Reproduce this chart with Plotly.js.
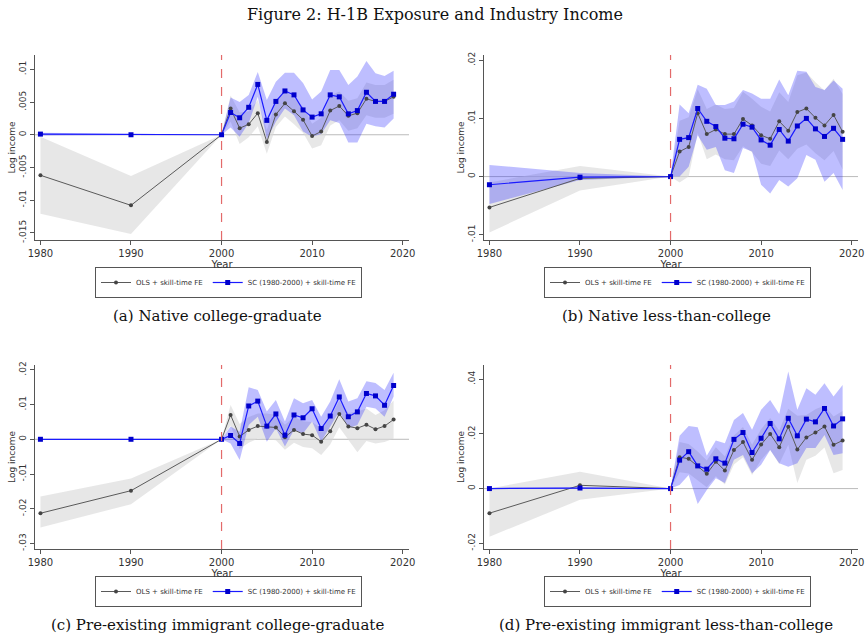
<!DOCTYPE html>
<html>
<head>
<meta charset="utf-8">
<script src="https://cdn.plot.ly/plotly-3.0.1.min.js"></script>
<style>
  html, body { margin: 0; padding: 0; background: white; }
  #fig { width: 865px; height: 644px; }
</style>
</head>
<body>
<div id="fig"></div>
<script>
// years on the x axis
var years = [1980, 1990, 2000, 2001, 2002, 2003, 2004, 2005, 2006, 2007, 2008, 2009,
             2010, 2011, 2012, 2013, 2014, 2015, 2016, 2017, 2018, 2019];

// (a) Native college-graduate
var a_ols    = [-0.0062, -0.0108, 0, 0.0040, 0.0010, 0.0016, 0.0033, -0.0011, 0.0031, 0.0048, 0.0036, 0.0023,
                -0.0002, 0.0005, 0.0037, 0.0044, 0.0029, 0.0033, 0.0055, 0.0051, 0.0051, 0.0058];
var a_ols_lo = [-0.0121, -0.0152, 0, 0.0020, -0.0014, -0.0004, 0.0013, -0.0029, 0.0012, 0.0028, 0.0016, 0.0003,
                -0.0021, -0.0016, 0.0014, 0.0022, 0.0006, 0.0010, 0.0030, 0.0026, 0.0026, 0.0032];
var a_ols_hi = [-0.0003, -0.0063, 0, 0.0060, 0.0034, 0.0036, 0.0053, 0.0007, 0.0050, 0.0068, 0.0056, 0.0043,
                0.0017, 0.0026, 0.0060, 0.0066, 0.0052, 0.0056, 0.0080, 0.0076, 0.0076, 0.0084];
var a_sc     = [0.0001, 0, 0, 0.0034, 0.0026, 0.0042, 0.0077, 0.0022, 0.0051, 0.0067, 0.0061, 0.0038,
                0.0027, 0.0032, 0.0061, 0.0058, 0.0032, 0.0037, 0.0065, 0.0051, 0.0051, 0.0062];
var a_sc_lo  = [-0.0001, -0.0001, 0, 0.0011, -0.0003, 0.0018, 0.0058, -0.0007, 0.0020, 0.0040, 0.0030, 0.0005,
                -0.0003, 0.0001, 0.0022, 0.0018, -0.0012, -0.0012, 0.0017, 0.0013, 0.0011, 0.0025];
var a_sc_hi  = [0.0003, 0.0001, 0, 0.0057, 0.0050, 0.0061, 0.0096, 0.0053, 0.0081, 0.0095, 0.0095, 0.0079,
                0.0054, 0.0066, 0.0099, 0.0099, 0.0076, 0.0089, 0.0113, 0.0094, 0.0090, 0.0098];

// (b) Native less-than-college
var b_ols    = [-0.0053, -0.0003, 0, 0.0043, 0.0051, 0.0109, 0.0073, 0.0081, 0.0073, 0.0073, 0.0099, 0.0088,
                0.0071, 0.0065, 0.0095, 0.0079, 0.0111, 0.0117, 0.0101, 0.0088, 0.0106, 0.0077];
var b_ols_lo = [-0.0096, -0.0024, 0, -0.0010, 0.0000, 0.0075, 0.0030, 0.0038, 0.0030, 0.0028, 0.0052, 0.0042,
                0.0022, 0.0018, 0.0045, 0.0030, 0.0048, 0.0055, 0.0040, 0.0028, 0.0044, 0.0012];
var b_ols_hi = [-0.0010, 0.0018, 0, 0.0096, 0.0102, 0.0150, 0.0116, 0.0124, 0.0116, 0.0118, 0.0146, 0.0134,
                0.0120, 0.0112, 0.0145, 0.0128, 0.0174, 0.0179, 0.0162, 0.0148, 0.0168, 0.0142];
var b_sc     = [-0.0014, -0.0001, 0, 0.0064, 0.0067, 0.0117, 0.0095, 0.0086, 0.0066, 0.0065, 0.0090, 0.0085,
                0.0063, 0.0054, 0.0081, 0.0061, 0.0087, 0.0100, 0.0082, 0.0069, 0.0083, 0.0064];
var b_sc_lo  = [-0.0047, -0.0006, 0, 0.0000, 0.0017, 0.0071, 0.0046, 0.0051, 0.0011, 0.0006, 0.0049, 0.0043,
                -0.0014, -0.0029, -0.0006, -0.0017, -0.0003, 0.0037, 0.0029, -0.0009, 0.0006, -0.0023];
var b_sc_hi  = [0.0020, 0.0006, 0, 0.0124, 0.0109, 0.0158, 0.0151, 0.0123, 0.0123, 0.0129, 0.0149, 0.0143,
                0.0134, 0.0134, 0.0167, 0.0140, 0.0182, 0.0180, 0.0154, 0.0149, 0.0165, 0.0151];

// (c) Pre-existing immigrant college-graduate
var c_ols    = [-0.0213, -0.0148, 0, 0.0070, 0.0008, 0.0027, 0.0038, 0.0037, 0.0034, 0.0006, 0.0027, 0.0015,
                0.0012, -0.0007, 0.0023, 0.0073, 0.0037, 0.0032, 0.0042, 0.0029, 0.0038, 0.0057];
var c_ols_lo = [-0.0254, -0.0187, 0, 0.0040, -0.0028, -0.0010, 0.0002, 0.0000, -0.0003, -0.0030, -0.0010, -0.0022,
                -0.0026, -0.0045, -0.0015, 0.0035, -0.0002, -0.0037, -0.0005, -0.0012, -0.0008, 0.0002];
var c_ols_hi = [-0.0165, -0.0113, 0, 0.0099, 0.0044, 0.0064, 0.0074, 0.0074, 0.0071, 0.0042, 0.0064, 0.0052,
                0.0050, 0.0031, 0.0061, 0.0111, 0.0076, 0.0080, 0.0089, 0.0070, 0.0084, 0.0112];
var c_sc     = [0, 0, 0, 0.0011, -0.0012, 0.0096, 0.0110, 0.0038, 0.0073, 0.0012, 0.0070, 0.0062,
                0.0088, 0.0031, 0.0067, 0.0122, 0.0065, 0.0079, 0.0132, 0.0125, 0.0098, 0.0155];
var c_sc_lo  = [0, 0, 0, -0.0012, -0.0060, 0.0041, 0.0065, -0.0007, 0.0032, -0.0021, 0.0027, 0.0017,
                0.0051, -0.0007, 0.0037, 0.0080, 0.0032, 0.0041, 0.0094, 0.0089, 0.0065, 0.0123];
var c_sc_hi  = [0, 0, 0, 0.0037, 0.0022, 0.0150, 0.0142, 0.0080, 0.0113, 0.0051, 0.0118, 0.0104,
                0.0113, 0.0065, 0.0109, 0.0173, 0.0109, 0.0118, 0.0167, 0.0162, 0.0142, 0.0192];

// (d) Pre-existing immigrant less-than-college
var d_ols    = [-0.0090, 0.0012, 0, 0.0115, 0.0109, 0.0083, 0.0054, 0.0098, 0.0066, 0.0141, 0.0170, 0.0105,
                0.0161, 0.0200, 0.0151, 0.0226, 0.0143, 0.0187, 0.0205, 0.0227, 0.0160, 0.0176];
var d_ols_lo = [-0.0176, -0.0041, 0, 0.0060, 0.0055, 0.0030, 0.0005, 0.0045, 0.0015, 0.0088, 0.0115, 0.0050,
                0.0105, 0.0142, 0.0090, 0.0160, 0.0020, 0.0105, 0.0120, 0.0150, 0.0056, 0.0068];
var d_ols_hi = [0.0000, 0.0062, 0, 0.0170, 0.0163, 0.0136, 0.0103, 0.0151, 0.0117, 0.0194, 0.0225, 0.0160,
                0.0217, 0.0258, 0.0212, 0.0292, 0.0266, 0.0269, 0.0290, 0.0304, 0.0264, 0.0284];
var d_sc     = [0, 0.0002, 0, 0.0104, 0.0135, 0.0083, 0.0071, 0.0109, 0.0093, 0.0180, 0.0205, 0.0132,
                0.0184, 0.0238, 0.0182, 0.0257, 0.0193, 0.0254, 0.0244, 0.0293, 0.0229, 0.0255];
var d_sc_lo  = [-0.0002, -0.0001, 0, 0.0013, 0.0050, -0.0056, -0.0005, 0.0038, 0.0020, 0.0105, 0.0123, 0.0056,
                0.0087, 0.0141, 0.0093, 0.0080, 0.0093, 0.0148, 0.0148, 0.0196, 0.0123, 0.0129];
var d_sc_hi  = [0.0002, 0.0005, 0, 0.0193, 0.0229, 0.0224, 0.0120, 0.0176, 0.0166, 0.0251, 0.0276, 0.0215,
                0.0288, 0.0324, 0.0273, 0.0428, 0.0288, 0.0367, 0.0343, 0.0385, 0.0337, 0.0379];

var ols_name = "OLS + skill-time FE";
var sc_name = "SC (1980-2000) + skill-time FE";

var captions = ["(a) Native college-graduate", "(b) Native less-than-college",
                "(c) Pre-existing immigrant college-graduate", "(d) Pre-existing immigrant less-than-college"];

var y_ticks = [
  [-0.015, -0.01, -0.005, 0, 0.005, 0.01],
  [-0.01, 0, 0.01, 0.02],
  [-0.03, -0.02, -0.01, 0, 0.01, 0.02],
  [-0.02, 0, 0.02, 0.04]
];
var y_ticktext = [
  ["-.015", "-.01", "-.005", "0", ".005", ".01"],
  ["-.01", "0", ".01", ".02"],
  ["-.03", "-.02", "-.01", "0", ".01", ".02"],
  ["-.02", "0", ".02", ".04"]
];
var y_ranges = [[-0.0161, 0.0122], [-0.0109, 0.0209], [-0.0316, 0.0214], [-0.0221, 0.0452]];
var x_ticks = [1980, 1990, 2000, 2010, 2020];

var panels = [
  [a_ols, a_ols_lo, a_ols_hi, a_sc, a_sc_lo, a_sc_hi],
  [b_ols, b_ols_lo, b_ols_hi, b_sc, b_sc_lo, b_sc_hi],
  [c_ols, c_ols_lo, c_ols_hi, c_sc, c_sc_lo, c_sc_hi],
  [d_ols, d_ols_lo, d_ols_hi, d_sc, d_sc_lo, d_sc_hi]
];

// panel boxes in pixels (left, right, top, bottom) of an 865x644 page
var W = 865, H = 644;
var boxes = [
  [35, 409, 55, 240],
  [484, 858, 55, 240],
  [35, 409, 365, 549],
  [484, 858, 365, 549]
];

var data = [];
var layout = {
  width: W,
  height: H,
  margin: {l: 0, r: 0, t: 0, b: 0},
  paper_bgcolor: "white",
  plot_bgcolor: "white",
  showlegend: true,
  font: {family: "DejaVu Sans, sans-serif", size: 9, color: "#333"},
  shapes: [],
  annotations: [{
    text: "Figure 2: H-1B Exposure and Industry Income",
    xref: "paper", yref: "paper", x: 435 / W, y: 1 - 15 / H,
    xanchor: "center", yanchor: "middle", showarrow: false,
    font: {family: "DejaVu Serif, serif", size: 16, color: "#111"}
  }]
};

for (var p = 0; p < 4; p++) {
  var s = p === 0 ? "" : String(p + 1);
  var xa = "x" + s, ya = "y" + s;
  var leg = p === 0 ? "legend" : "legend" + (p + 1);
  var d = panels[p];
  var b = boxes[p];

  // grey CI band
  data.push({x: years, y: d[1], xaxis: xa, yaxis: ya, mode: "lines", line: {width: 0},
             hoverinfo: "skip", showlegend: false, legend: leg});
  data.push({x: years, y: d[2], xaxis: xa, yaxis: ya, mode: "lines", line: {width: 0},
             fill: "tonexty", fillcolor: "rgba(215,215,215,0.6)", hoverinfo: "skip", showlegend: false, legend: leg});
  // blue CI band
  data.push({x: years, y: d[4], xaxis: xa, yaxis: ya, mode: "lines", line: {width: 0},
             hoverinfo: "skip", showlegend: false, legend: leg});
  data.push({x: years, y: d[5], xaxis: xa, yaxis: ya, mode: "lines", line: {width: 0},
             fill: "tonexty", fillcolor: "rgba(40,40,255,0.3)", hoverinfo: "skip", showlegend: false, legend: leg});
  // point estimates
  data.push({x: years, y: d[0], xaxis: xa, yaxis: ya, mode: "lines+markers", name: ols_name,
             line: {color: "#5a5a5a", width: 1}, marker: {color: "#444", size: 4, symbol: "circle"},
             legend: leg});
  data.push({x: years, y: d[3], xaxis: xa, yaxis: ya, mode: "lines+markers", name: sc_name,
             line: {color: "#1a1aff", width: 1.2}, marker: {color: "#0000cc", size: 5, symbol: "square"},
             legend: leg});

  var xdom = [b[0] / W, b[1] / W];
  var ydom = [1 - b[3] / H, 1 - b[2] / H];

  layout["xaxis" + s] = {
    domain: xdom, anchor: ya, range: [1979.4, 2020.7],
    tickvals: x_ticks, ticks: "outside", ticklen: 4, tickcolor: "#555",
    showline: true, linecolor: "#555", linewidth: 1, showgrid: false, zeroline: false,
    tickfont: {size: 10, color: "#333"},
    title: {text: "Year", font: {size: 10, color: "#333"}, standoff: 2}
  };
  layout["yaxis" + s] = {
    domain: ydom, anchor: xa, range: y_ranges[p],
    tickvals: y_ticks[p], ticktext: y_ticktext[p], tickangle: -90,
    ticks: "outside", ticklen: 4, tickcolor: "#555",
    showline: true, linecolor: "#555", linewidth: 1, showgrid: false, zeroline: false,
    tickfont: {size: 9, color: "#333"},
    title: {text: "Log income", font: {size: 9, color: "#333"}, standoff: 1}
  };

  // zero line and 2000 dashed marker
  layout.shapes.push({type: "line", xref: xa + " domain", yref: ya, x0: 0, x1: 1, y0: 0, y1: 0,
                      line: {color: "#bbb", width: 1}, layer: "below"});
  layout.shapes.push({type: "line", xref: xa, yref: ya + " domain", x0: 2000, x1: 2000, y0: 0, y1: 1,
                      line: {color: "#e36a6a", width: 1.2, dash: "dash"}, layer: "above"});

  layout[leg] = {
    orientation: "h", xref: "paper", yref: "paper", traceorder: "normal",
    x: (b[0] + 60) / W, y: 1 - (b[3] + 27) / H, xanchor: "left", yanchor: "top",
    bordercolor: "#555", borderwidth: 1, bgcolor: "white",
    font: {size: 7, color: "#333"}, tracegroupgap: 0, itemwidth: 30
  };

  layout.annotations.push({
    text: captions[p], xref: "paper", yref: "paper",
    x: ((b[0] + b[1]) / 2 - 5) / W, y: 1 - (b[3] + 76) / H,
    xanchor: "center", yanchor: "middle", showarrow: false,
    font: {family: "DejaVu Serif, serif", size: 15, color: "#111"}
  });
}

Plotly.newPlot("fig", data, layout, {displayModeBar: false, staticPlot: true});
</script>
</body>
</html>
